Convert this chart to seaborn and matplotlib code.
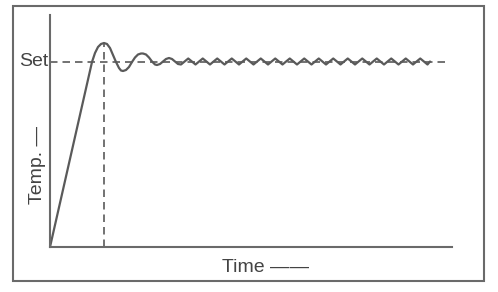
import matplotlib
matplotlib.use("Agg")
import matplotlib.pyplot as plt
import seaborn as sns
import pandas as pd
from matplotlib.patches import Rectangle

sns.set_style("white")
plt.rcParams['font.family'] = ['Liberation Sans', 'DejaVu Sans']

# Data (arbitrary units)
SET = 185
time_rise = [0, 42, 45, 48, 51, 54, 57, 60, 63, 66, 69, 71, 73, 76, 79, 82, 85, 88, 91, 93,
             96, 99, 102, 105, 107, 110, 113, 116, 119, 122, 125, 128]
temp_rise = [0, 185, 194, 200, 203, 204, 203, 199, 192, 185, 179, 176.5, 176, 177, 180, 185,
             189.5, 192.5, 193.5, 193.5, 192.5, 189.5, 185.5, 182.5, 182, 183, 185.5, 188,
             189, 188, 185.5, 183]
time_tail = [131, 134.6, 138.25, 141.9, 145.5, 149.1, 152.75, 156.4, 160, 163.6, 167.25, 170.9,
             174.5, 178.1, 181.75, 185.4, 189, 192.6, 196.25, 199.9, 203.5, 207.1, 210.75, 214.4,
             218, 221.6, 225.25, 228.9, 232.5, 236.1, 239.75, 243.4, 247, 250.6, 254.25, 257.9,
             261.5, 265.1, 268.75, 272.4, 276, 279.6, 283.25, 286.9, 290.5, 294.1, 297.75, 301.4,
             305, 308.6, 312.25, 315.9, 319.5, 323.1, 326.75, 330.4, 334, 337.6, 341.25, 344.9,
             348.5, 352.1, 355.75, 359.4, 363, 366.6, 370.25, 373.9, 377.5, 380]
temp_tail = [182.5, 185.5, 188.5, 185.5] * 17 + [182.5, 185.5]

time = time_rise + time_tail
temp = temp_rise + temp_tail
df = pd.DataFrame({"Time": time, "Temp": temp})

W, H = 498, 292
fig = plt.figure(figsize=(W / 100, H / 100), dpi=100)
ax = fig.add_axes([50 / W, 45 / H, 402 / W, 232 / H])

grey = "#5a5a5a"
sns.lineplot(data=df, x="Time", y="Temp", ax=ax, color=grey, lw=1.6, sort=False)

peak_i = max(range(len(temp)), key=lambda i: temp[i])
peak_t, peak_v = time[peak_i], temp[peak_i]
ax.plot([0, 400], [SET, SET], color=grey, lw=1.2, ls=(0, (4.5, 3)))
ax.vlines(peak_t, 0, peak_v, color=grey, lw=1.2, ls=(0, (4.5, 3)))

ax.set_xlim(0, 402)
ax.set_ylim(0, 232)
ax.set_xticks([])
ax.set_yticks([])
ax.set_xlabel("")
ax.set_ylabel("")
for s in ["top", "right"]:
    ax.spines[s].set_visible(False)
for s in ["left", "bottom"]:
    ax.spines[s].set_color("#6a6a6a")
    ax.spines[s].set_linewidth(1.5)

txt = "#444444"
ax.text(-2, SET, "Set", ha="right", va="center", fontsize=14, color=txt)
fig.text(265 / W, 1 - 267 / H, "Time ——", ha="center", va="center", fontsize=14, color=txt)
fig.text(37 / W, 1 - 165 / H, "Temp. —", ha="center", va="center", rotation=90, fontsize=14, color=txt)

fig.patches.append(Rectangle((13 / W, 1 - 281 / H), 471 / W, 275 / H, transform=fig.transFigure,
                             fill=False, edgecolor="#6a6a6a", lw=1.5))

fig.savefig("out.png", dpi=100)
